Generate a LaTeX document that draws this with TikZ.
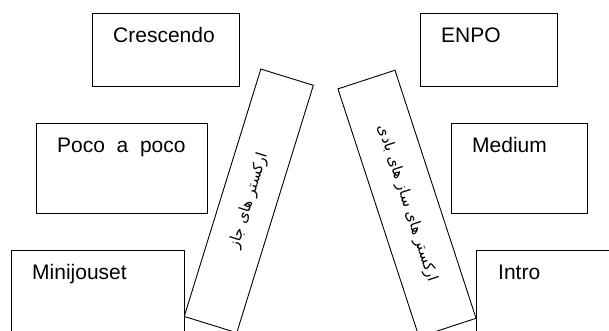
\documentclass[tikz,border=0pt]{standalone}
\usepackage{fontspec}
\setmainfont{Liberation Sans}
\newfontfamily\farsi[Script=Arabic]{DejaVu Sans}
\TeXXeTstate=1
\tikzset{box/.style={draw,fill=white,line width=0.9pt,inner sep=0,anchor=north west},
 slanted/.style={draw,fill=white,line width=0.9pt,inner sep=0,
  font=\farsi\fontsize{15}{18}\selectfont},
 band/.style={anchor=base west,inner sep=0,font=\fontsize{21}{25}\selectfont},
 }

\begin{document}
\begin{tikzpicture}[x=1pt,y=1pt]
        \useasboundingbox (0,0) rectangle (609,331);
        \clip (0,0) rectangle (609,331);
        % tilted boxes
        \node[slanted, rotate=72.8, minimum width=259pt, minimum height=55pt] (jazz) at (248.8,130.1) {\beginR ارکستر های جاز\endR};
        \node[slanted, rotate=-71.9, minimum width=261pt, minimum height=60pt] (wind) at (407,127.4) {\beginR ارکستر های ساز های بادی\endR};
        % left side
        \node[box, minimum width=147pt, minimum height=73pt] (crescendo) at (92,318) {};
        \node[box, minimum width=171pt, minimum height=90pt] (poco) at (36,208) {};
        \node[box, minimum width=173pt, minimum height=90pt] (mini) at (11,81) {};
        % right side
        \node[box, minimum width=137pt, minimum height=73pt] (enpo) at (420,318) {};
        \node[box, minimum width=136pt, minimum height=90pt] (medium) at (451,208) {};
        \node[box, minimum width=136pt, minimum height=90pt] (intro) at (476,81) {};
        \node[band] (crescendoTxt) at ([shift={(21,-30)}]crescendo.north west) {Crescendo};
        \node[band] (pocoTxt) at ([shift={(21,-30)}]poco.north west) {Poco~~a~~poco};
        \node[band] (miniTxt) at ([shift={(21,-30)}]mini.north west) {Minijouset};
        \node[band] (enpoTxt) at ([shift={(21,-30)}]enpo.north west) {ENPO};
        \node[band] (mediumTxt) at ([shift={(21,-30)}]medium.north west) {Medium};
        \node[band] (introTxt) at ([shift={(22,-30)}]intro.north west) {Intro};
\end{tikzpicture}
\end{document}
